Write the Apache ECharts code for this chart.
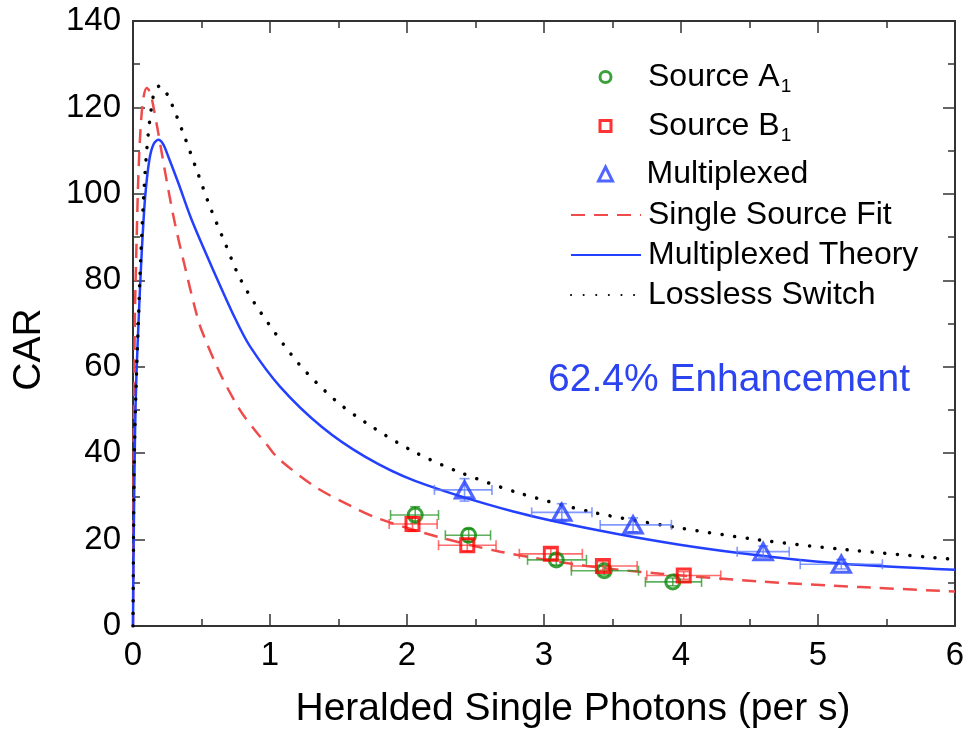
<!DOCTYPE html>
<html>
<head>
<meta charset="utf-8">
<script src="https://cdn.jsdelivr.net/npm/echarts@6/dist/echarts.min.js"></script>
<style>
html,body{margin:0;padding:0;background:#fff;}
#chart{width:967px;height:734px;}
</style>
</head>
<body>
<div id="chart"></div>
<script>
// ---- measured data: Source A1 (green circles) ----
const srcA_x   = [2.06, 2.45, 3.09, 3.44, 3.94];
const srcA_y   = [25.7, 21.0, 15.3, 12.8, 10.2];
const srcA_xlo = [1.88, 2.28, 2.88, 3.20, 3.74];
const srcA_xhi = [2.23, 2.61, 3.31, 3.69, 4.15];
const srcA_yerr = [1.9, 1.5, 1.2, 1.0, 0.9];

// ---- Source B1 (red squares) ----
const srcB_x   = [2.04, 2.44, 3.05, 3.43, 4.02];
const srcB_y   = [23.6, 18.7, 16.7, 13.9, 11.7];
const srcB_xlo = [1.87, 2.23, 2.82, 3.20, 3.75];
const srcB_xhi = [2.22, 2.65, 3.28, 3.68, 4.29];
const srcB_yerr = [1.7, 1.4, 1.2, 1.0, 0.9];

// ---- Multiplexed (blue triangles) ----
const mux_x   = [2.42, 3.13, 3.65, 4.60, 5.17];
const mux_y   = [31.5, 26.3, 23.4, 17.2, 14.3];
const mux_xlo = [2.20, 2.91, 3.41, 4.41, 4.87];
const mux_xhi = [2.62, 3.35, 3.93, 4.79, 5.47];
const mux_yerr = [2.6, 2.0, 1.6, 1.3, 1.1];

// ---- Single Source Fit (red dashed) ----
const fitX = [0, 0.005, 0.01, 0.015, 0.027, 0.039, 0.055, 0.075, 0.1, 0.125, 0.15, 0.185, 0.246, 0.307, 0.38, 0.457, 0.5, 0.635, 0.78, 0.89, 0.976, 1.06, 1.33, 1.6, 1.79, 2.217, 2.68, 3.31, 3.85, 4.58, 5.31, 6.0];
const fitY = [0, 40, 60, 74, 90, 104, 115, 122, 124.5, 123.5, 120, 114, 103, 93, 83, 73, 68.5, 58.5, 50, 45.3, 42, 38.8, 32.2, 27.6, 24.9, 20.7, 17.2, 13.9, 12.1, 10.3, 9.0, 8.0];

// ---- Multiplexed Theory (blue solid) ----
const theoX = [0, 0.005, 0.015, 0.025, 0.044, 0.063, 0.088, 0.12, 0.15, 0.185, 0.22, 0.258, 0.331, 0.428, 0.574, 0.745, 0.854, 1.073, 1.377, 1.693, 2.058, 2.776, 3.385, 3.99, 4.577, 5.18, 6.0];
const theoY = [0, 20, 45, 58, 73, 86, 99, 108, 111.5, 112.5, 111.5, 108.6, 102.5, 94, 83.2, 71.2, 64.7, 55.4, 46.1, 39.2, 33.6, 26.5, 22.2, 18.8, 16.3, 14.4, 13.0];

// ---- Lossless Switch (black dotted) ----
const lossX = [0, 0.005, 0.01, 0.025, 0.04, 0.051, 0.075, 0.1, 0.13, 0.16, 0.197, 0.258, 0.367, 0.465, 0.562, 0.672, 0.78, 0.927, 1.207, 1.474, 1.706, 2.034, 2.375, 2.825, 3.372, 3.93, 4.577, 5.16, 6.0];
const lossY = [0, 25, 40, 58, 71, 81, 97.8, 110, 119, 124, 125, 122.5, 114, 105.5, 97, 88.6, 80.5, 72.8, 60.8, 52.3, 46.9, 40.6, 35.7, 30.7, 26.2, 23.0, 19.9, 17.8, 15.4];

// ---- axis ticks ----
const xTicks = [0, 1, 2, 3, 4, 5, 6];
const yTicks = [0, 20, 40, 60, 80, 100, 120, 140];

const FONT = '"Liberation Sans", Arial, sans-serif';
const zip = (a, b) => a.map((v, i) => [v, b[i]]);
const errData = (x, y, lo, hi, ye) => x.map((v, i) => [v, y[i], lo[i], hi[i], ye[i]]);

function errRender(params, api) {
  const x = api.value(0), y = api.value(1), xlo = api.value(2), xhi = api.value(3), ye = api.value(4);
  const L = api.coord([xlo, y]), R = api.coord([xhi, y]);
  const T = api.coord([x, y + ye]), B = api.coord([x, y - ye]);
  const col = api.visual('color');
  const st = {stroke: col, lineWidth: 1.6};
  const c = 5;
  const ln = (x1, y1, x2, y2) => ({type: 'line', shape: {x1, y1, x2, y2}, style: st});
  return {type: 'group', children: [
    ln(L[0], L[1], R[0], R[1]),
    ln(L[0], L[1] - c, L[0], L[1] + c),
    ln(R[0], R[1] - c, R[0], R[1] + c),
    ln(T[0], T[1], B[0], B[1]),
    ln(T[0] - c, T[1], T[0] + c, T[1]),
    ln(B[0] - c, B[1], B[0] + c, B[1])
  ]};
}

const chart = echarts.init(document.getElementById('chart'), null, {renderer: 'canvas'});

const axisCommon = {
  axisLine: {show: true, onZero: false, lineStyle: {color: '#333', width: 2}},
  axisTick: {show: true, inside: true, length: 12, lineStyle: {color: '#333', width: 1.5}},
  minorTick: {show: true, splitNumber: 2, length: 7, lineStyle: {color: '#333', width: 1.5}},
  splitLine: {show: false}
};

const richText = {
  m: {fontFamily: FONT, fontSize: 32, color: '#000'},
  s: {fontFamily: FONT, fontSize: 19, color: '#000', verticalAlign: 'bottom', padding: [20, 0, 0, 1]}
};

// scatter legends: small icon centred at x~604, text from x~649
const legendMarker = (name, top, fmt, size) => ({
  data: [name], left: 604 - size / 2, top: top, orient: 'vertical', padding: 0,
  itemWidth: size, itemHeight: size, selectedMode: false,
  itemStyle: {borderWidth: 3},
  textStyle: {fontFamily: FONT, fontSize: 32, color: '#000', padding: [0, 0, 0, 43 - size], rich: richText},
  formatter: fmt || (n => n)
});
// line legends: 70px line from x~570
const legendLine = (name, top) => ({
  data: [name], left: 570, top: top, orient: 'vertical', padding: 0,
  itemWidth: 70, itemHeight: 14, selectedMode: false,
  itemStyle: {opacity: 0},
  textStyle: {fontFamily: FONT, fontSize: 32, color: '#000', padding: [0, 0, 0, 2]}
});

chart.setOption({
  backgroundColor: '#fff',
  animation: false,
  grid: {left: 133, right: 12, top: 21, bottom: 108, containLabel: false, outerBoundsMode: 'none'},
  xAxis: [
    Object.assign({}, axisCommon, {
      type: 'value', min: 0, max: 6, interval: 1, position: 'bottom',
      name: 'Heralded Single Photons (per s)', nameLocation: 'middle', nameGap: 64,
      nameTextStyle: {fontFamily: FONT, fontSize: 39, color: '#000', padding: [0, 0, 0, 58]},
      axisLabel: {fontFamily: FONT, fontSize: 33, color: '#000', margin: 13,
        formatter: v => xTicks.includes(v) ? String(v) : ''}
    }),
    Object.assign({}, axisCommon, {
      type: 'value', min: 0, max: 6, interval: 1, position: 'top',
      axisLabel: {show: false}
    })
  ],
  yAxis: [
    Object.assign({}, axisCommon, {
      type: 'value', min: 0, max: 140, interval: 20, position: 'left',
      name: 'CAR', nameLocation: 'middle', nameGap: 84,
      nameTextStyle: {fontFamily: FONT, fontSize: 39, color: '#000', padding: [0, 52, 0, 0]},
      axisLabel: {fontFamily: FONT, fontSize: 33, color: '#000', margin: 12,
        formatter: v => yTicks.includes(v) ? String(v) : ''}
    }),
    Object.assign({}, axisCommon, {
      type: 'value', min: 0, max: 140, interval: 20, position: 'right',
      axisLabel: {show: false}
    })
  ],
  legend: [
    legendMarker('Source A1', 61, () => '{m|Source A}{s|1}', 11),
    legendMarker('Source B1', 110, () => '{m|Source B}{s|1}', 11),
    legendMarker('Multiplexed', 158, null, 14),
    legendLine('Single Source Fit', 199),
    legendLine('Multiplexed Theory', 239),
    legendLine('Lossless Switch', 279)
  ],
  graphic: [{
    type: 'text', left: 548, top: 361, z: 100,
    style: {text: '62.4% Enhancement', fontFamily: FONT, fontSize: 39, fill: '#2b44f0'}
  }],
  series: [
    {name: 'Single Source Fit', type: 'line', data: zip(fitX, fitY), showSymbol: false, symbol: 'none',
     smooth: 0.3, z: 2,
     lineStyle: {color: '#ef4b4b', width: 2.5, type: [14, 9]}, itemStyle: {color: '#ef4b4b'}},
    {name: 'Multiplexed Theory', type: 'line', data: zip(theoX, theoY), showSymbol: false, symbol: 'none',
     smooth: 0.3, z: 2,
     lineStyle: {color: '#2440ff', width: 2.5}, itemStyle: {color: '#2440ff'}},
    {name: 'Lossless Switch', type: 'line', data: zip(lossX, lossY), showSymbol: false, symbol: 'none',
     smooth: 0.3, z: 2,
     lineStyle: {color: '#000', width: 3.5, type: [0.1, 12.5], cap: 'round'}, itemStyle: {color: '#000'}},
    {name: 'errA', type: 'custom', renderItem: errRender, data: errData(srcA_x, srcA_y, srcA_xlo, srcA_xhi, srcA_yerr),
     encode: {x: 0, y: 1}, itemStyle: {color: 'rgba(40,150,40,0.75)'}, z: 3},
    {name: 'errB', type: 'custom', renderItem: errRender, data: errData(srcB_x, srcB_y, srcB_xlo, srcB_xhi, srcB_yerr),
     encode: {x: 0, y: 1}, itemStyle: {color: 'rgba(255,60,60,0.75)'}, z: 3},
    {name: 'errM', type: 'custom', renderItem: errRender, data: errData(mux_x, mux_y, mux_xlo, mux_xhi, mux_yerr),
     encode: {x: 0, y: 1}, itemStyle: {color: 'rgba(90,120,255,0.75)'}, z: 3},
    {name: 'Source A1', type: 'scatter', data: zip(srcA_x, srcA_y), symbol: 'circle', symbolSize: 14, z: 5,
     itemStyle: {color: 'rgba(255,255,255,0)', borderColor: '#0a8a0a', borderWidth: 3}},
    {name: 'Source B1', type: 'scatter', data: zip(srcB_x, srcB_y), symbol: 'rect', symbolSize: 13, z: 5,
     itemStyle: {color: 'rgba(255,255,255,0)', borderColor: '#ff0000', borderWidth: 3}},
    {name: 'Multiplexed', type: 'scatter', data: zip(mux_x, mux_y), symbol: 'triangle', symbolSize: [18, 16], z: 5,
     itemStyle: {color: 'rgba(255,255,255,0)', borderColor: '#2440ff', borderWidth: 3.2}}
  ]
});
</script>
</body>
</html>
